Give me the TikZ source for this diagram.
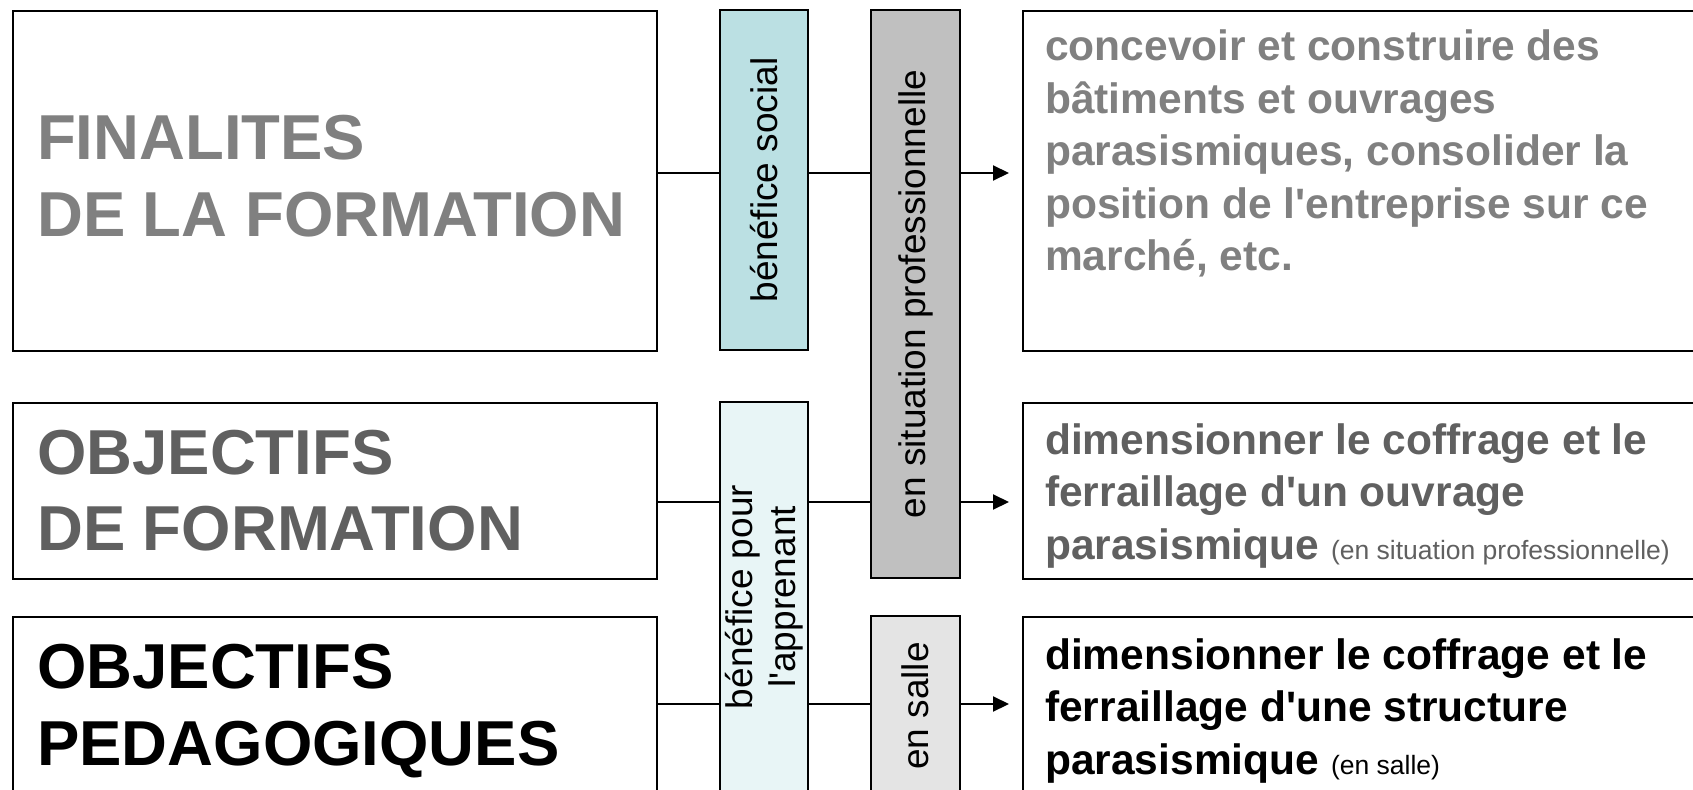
\documentclass[tikz,border=0pt]{standalone}
\usepackage{fontspec}
\setmainfont{Liberation Sans}
\usetikzlibrary{arrows.meta,backgrounds}
\definecolor{gA}{HTML}{808080}
\definecolor{gB}{HTML}{606060}
\definecolor{barblue}{HTML}{BBE0E3}
\definecolor{barlight}{HTML}{E8F5F6}
\definecolor{bargrey}{HTML}{C0C0C0}
\definecolor{barpale}{HTML}{E4E4E4}
\tikzset{
  box/.style={draw=black, line width=2pt, inner sep=0pt, anchor=north west, fill=white},
  bar/.style={draw=black, line width=2pt, inner sep=0pt, rotate=90, align=center,
    font=\fontsize{37}{43}\selectfont},
  hdr/.style={anchor=base west, inner sep=0pt, font=\fontsize{63.5}{77}\selectfont\bfseries},
  txt/.style={anchor=base west, inner sep=0pt, font=\fontsize{42.5}{52.5}\selectfont\bfseries},
  conn/.style={line width=2pt},
  arr/.style={line width=2pt, -{Triangle[length=16pt,width=15pt]}, shorten >=13pt},
}
\newcommand{\smalltxt}[1]{{\mdseries\fontsize{26.5}{30}\selectfont #1}}
\newcommand{\q}{\textquotesingle}
\begin{document}
\begin{tikzpicture}[x=1pt,y=-1pt]
\useasboundingbox (0,0) rectangle (1693,789);
\clip (0,0) rectangle (1693,789);
% left boxes
\node[box, minimum width=644pt, minimum height=340pt] (L1) at (12,10) {};
\node[box, minimum width=644pt, minimum height=176pt] (L2) at (12,402) {};
\node[box, minimum width=644pt, minimum height=190pt] (L3) at (12,616) {};
% right boxes
\node[box, minimum width=700pt, minimum height=340pt] (R1) at (1022,10) {};
\node[box, minimum width=700pt, minimum height=176pt] (R2) at (1022,402) {};
\node[box, minimum width=700pt, minimum height=190pt] (R3) at (1022,616) {};
% bars
\node[bar, fill=barblue, minimum width=340pt, minimum height=88pt] (B1) at (764,180) {bénéfice social};
\node[bar, fill=barlight, minimum width=390pt, minimum height=88pt] (B2) at (764,597) {bénéfice pour\\l\q apprenant};
\node[bar, fill=bargrey, minimum width=568pt, minimum height=89pt] (G1) at (915.5,294) {en situation professionnelle};
\node[bar, fill=barpale, minimum width=180pt, minimum height=89pt] (G2) at (915.5,706) {en salle};
% level coordinates
\coordinate (y1) at (0,173);
\coordinate (y2) at (0,502);
\coordinate (y3) at (0,704);
\begin{scope}[on background layer]
\draw[conn] (L1.east |- y1) -- (G1.south |- y1);
\draw[arr] (G1.south |- y1) -- (R1.west |- y1);
\draw[conn] (L2.east |- y2) -- (G1.south |- y2);
\draw[arr] (G1.south |- y2) -- (R2.west |- y2);
\draw[conn] (L3.east |- y3) -- (G2.south |- y3);
\draw[arr] (G2.south |- y3) -- (R3.west |- y3);
\end{scope}
% left titles
\node[hdr, text=gA] (t1a) at (37,159) {FINALITES};
\node[hdr, text=gA] (t1b) at (37,236) {DE LA FORMATION};
\node[hdr, text=gB] (t2a) at (37,474) {OBJECTIFS};
\node[hdr, text=gB] (t2b) at (37,550) {DE FORMATION};
\node[hdr, text=black] (t3a) at (37,688) {OBJECTIFS};
\node[hdr, text=black] (t3b) at (37,765) {PEDAGOGIQUES};
% right texts
\node[txt, text=gA] (r1) at (1045,61) {\vtop{\hbox{concevoir et construire des}\hbox{bâtiments et ouvrages}\hbox{parasismiques, consolider la}\hbox{position de l\q entreprise sur ce}\hbox{marché, etc.}}};
\node[txt, text=gB] (r2) at (1045,454) {\vtop{\hbox{dimensionner le coffrage et le}\hbox{ferraillage d\q un ouvrage}\hbox{parasismique \smalltxt{(en situation professionnelle)}}}};
\node[txt, text=black] (r3) at (1045,669) {\vtop{\hbox{dimensionner le coffrage et le}\hbox{ferraillage d\q une structure}\hbox{parasismique \smalltxt{(en salle)}}}};
\end{tikzpicture}
\end{document}
